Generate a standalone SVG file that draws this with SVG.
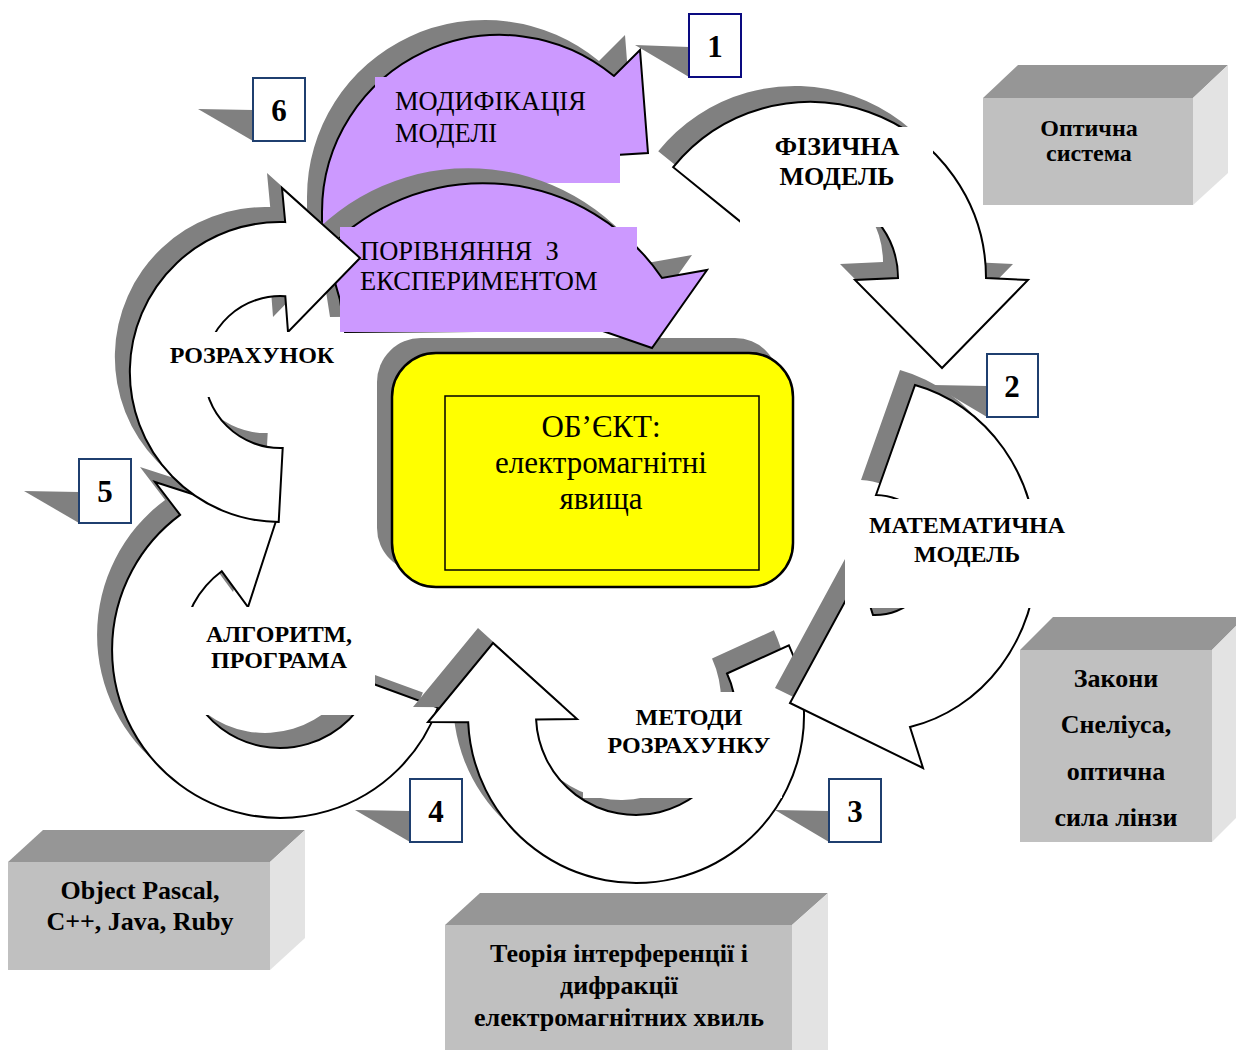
<svg xmlns="http://www.w3.org/2000/svg" width="1236" height="1050" viewBox="0 0 1236 1050">
<style>
.sh{fill:#808080}
.wa{fill:#ffffff;stroke:#000;stroke-width:2;stroke-linejoin:miter}
.pa{fill:#cc99ff;stroke:#000;stroke-width:2;stroke-linejoin:miter}
.wl{fill:#ffffff}
.pl{fill:#cc99ff}
.t{font-family:"Liberation Serif","Times New Roman",serif;fill:#000}
.c{text-anchor:middle}
.b{font-weight:bold}
.lb{font-size:24px}
.pt{font-size:26.5px}
.cf{fill:#c0c0c0}
.ct{fill:#969696}
.cs{fill:#e3e3e3}
.nb{fill:#ffffff;stroke:#1f3f6f;stroke-width:2}
.np{fill:#808080}
.nt{font-size:31px}
.ctx{font-size:25px}
</style>
<defs>
<path id="p1" d="M741.6,222.6 L673.2,167.2 A176,176 0 0 1 986,278 L1028,280 L942,368 L855,280 L898,278 A88,88 0 0 0 741.6,222.6 Z"/>
<path id="p2" d="M876,495 L915,385 A163,176 0 0 1 910,727 L923,768 L790,703 L860,574 L873,615 A60,60 0 0 0 876,495 Z"/>
<path id="p3" d="M727,673.5 L788.9,645.3 A168,168 0 1 1 468.2,722.3 L428,722 L493,643 L577,719 L536.1,719.4 A100,100 0 1 0 727,673.5 Z"/>
<path id="p4" d="M372.1,683.5 L437.9,707.5 A168,168 0 1 1 180.1,514.9 L155,482 L276,521 L248,607 L221.7,571.2 A98,98 0 1 0 372.1,683.5 Z"/>
<path id="p5" d="M282.7,448 L278.7,522 A150,150 0 1 1 285.2,222.1 L282,188 L360,258 L288,332 L285.3,296.2 A76,76 0 1 0 282.7,448 Z"/>
<path id="p6" d="M322,255 L322,212 A178,177 0 0 1 614,76 L640,50 L648,153 L600,156 L560,175 L392,175 L392,255 Z"/>
<path id="p7" d="M318,260 A216,216 0 0 1 662,278 L707,270 L652,348 L600,330 L345,332 L340,300 L330,265 Z"/>
</defs>
<rect x="0" y="0" width="1236" height="1050" fill="#ffffff"/>

<g id="object">
<rect x="377" y="338" width="402" height="234" rx="44" class="sh"/>
<rect x="392" y="353" width="401" height="234" rx="44" fill="#ffff00" stroke="#000" stroke-width="2.5"/>
<rect x="445" y="396" width="314" height="174" fill="#ffff00" stroke="#000" stroke-width="1.5"/>
<text class="t c" font-size="31" x="601" y="437">ОБ’ЄКТ:</text>
<text class="t c" font-size="31" x="601" y="473">електромагнітні</text>
<text class="t c" font-size="31" x="601" y="509">явища</text>
</g>

<g id="stage-algorithm">
<use href="#p4" class="sh" transform="translate(-15,-15)"/>
<use href="#p4" class="wa"/>
<rect x="175" y="607" width="200" height="108" class="wl"/>
<text class="t c b lb" x="279" y="642">АЛГОРИТМ,</text>
<text class="t c b lb" x="279" y="668">ПРОГРАМА</text>
</g>

<g id="stage-methods">
<use href="#p3" class="sh" transform="translate(-15,-15)"/>
<use href="#p3" class="wa"/>
<rect x="583" y="692" width="199" height="106" class="wl"/>
<text class="t c b lb" x="689" y="725">МЕТОДИ</text>
<text class="t c b lb" x="689" y="753">РОЗРАХУНКУ</text>
</g>

<g id="stage-math">
<use href="#p2" class="sh" transform="translate(-15,-15)"/>
<use href="#p2" class="wa"/>
<rect x="845" y="499" width="223" height="109" class="wl"/>
<text class="t c b lb" x="967" y="533">МАТЕМАТИЧНА</text>
<text class="t c b lb" x="967" y="562">МОДЕЛЬ</text>
</g>

<g id="stage-physical">
<use href="#p1" class="sh" transform="translate(-15,-16)"/>
<use href="#p1" class="wa"/>
<rect x="740" y="127" width="193" height="100" class="wl"/>
<text class="t c b" font-size="26" x="837" y="155">ФІЗИЧНА</text>
<text class="t c b" font-size="26" x="837" y="185">МОДЕЛЬ</text>
</g>

<g id="stage-modification">
<use href="#p6" class="sh" transform="translate(-15,-15)"/>
<use href="#p6" class="pa"/>
<rect x="375" y="77" width="245" height="106" class="pl"/>
<text class="t pt" x="395" y="110">МОДИФІКАЦІЯ</text>
<text class="t pt" x="395" y="142">МОДЕЛІ</text>
</g>

<g id="stage-comparison">
<use href="#p7" class="sh" transform="translate(-15,-15)"/>
<use href="#p7" class="pa"/>
<rect x="340" y="227" width="297" height="105" class="pl"/>
<text class="t pt" x="360" y="260" xml:space="preserve">ПОРІВНЯННЯ  З</text>
<text class="t pt" x="360" y="290">ЕКСПЕРИМЕНТОМ</text>
</g>

<g id="stage-calculation">
<use href="#p5" class="sh" transform="translate(-15,-15)"/>
<use href="#p5" class="wa"/>
<rect x="160" y="332" width="180" height="65" class="wl"/>
<text class="t c b lb" x="252" y="363">РОЗРАХУНОК</text>
</g>

<g id="cube-optical">
<polygon class="ct" points="983,98 1193,98 1228,65 1018,65"/>
<polygon class="cs" points="1193,98 1228,65 1228,173 1193,205"/>
<rect class="cf" x="983" y="98" width="210" height="107"/>
<text class="t c b" font-size="24" x="1089" y="136">Оптична</text>
<text class="t c b" font-size="24" x="1089" y="161">система</text>
</g>

<g id="cube-snell">
<polygon class="ct" points="1020,650 1212,650 1245,617 1053,617"/>
<polygon class="cs" points="1212,650 1245,617 1245,809 1212,842"/>
<rect class="cf" x="1020" y="650" width="192" height="192"/>
<text class="t c b" font-size="26" x="1116" y="687">Закони</text>
<text class="t c b" font-size="26" x="1116" y="733">Снеліуса,</text>
<text class="t c b" font-size="26" x="1116" y="780">оптична</text>
<text class="t c b" font-size="26" x="1116" y="826">сила лінзи</text>
</g>

<g id="cube-languages">
<polygon class="ct" points="8,862 270,862 305,830 43,830"/>
<polygon class="cs" points="270,862 305,830 305,938 270,970"/>
<rect class="cf" x="8" y="862" width="262" height="108"/>
<text class="t c b" font-size="26" x="140" y="899">Object Pascal,</text>
<text class="t c b" font-size="26" x="140" y="930">C++, Java, Ruby</text>
</g>

<g id="cube-theory">
<polygon class="ct" points="445,925 792,925 828,893 480,893"/>
<polygon class="cs" points="792,925 828,893 828,1050 792,1060"/>
<rect class="cf" x="445" y="925" width="347" height="135"/>
<text class="t c b" font-size="26" x="619" y="962">Теорія інтерференції і</text>
<text class="t c b" font-size="26" x="619" y="994">дифракції</text>
<text class="t c b" font-size="26" x="619" y="1026">електромагнітних хвиль</text>
</g>

<g id="connectors">
<polygon class="np" points="635,45 689,47 689,77"/>
<polygon class="np" points="198,109 253,110 253,141"/>
<polygon class="np" points="933,385 987,386 987,417"/>
<polygon class="np" points="775,810 829,811 829,842"/>
<polygon class="np" points="355,810 410,811 410,842"/>
<polygon class="np" points="24,491 79,492 79,523"/>
</g>

<g id="num-1">
<rect x="689" y="14" width="52" height="63" fill="#ffffff" stroke="#0a0a80" stroke-width="2"/>
<text class="t c b nt" x="715" y="57">1</text>
</g>
<g id="num-2">
<rect class="nb" x="987" y="354" width="51" height="63"/>
<text class="t c b nt" x="1012" y="397">2</text>
</g>
<g id="num-3">
<rect class="nb" x="829" y="779" width="52" height="63"/>
<text class="t c b nt" x="855" y="822">3</text>
</g>
<g id="num-4">
<rect class="nb" x="410" y="779" width="52" height="63"/>
<text class="t c b nt" x="436" y="822">4</text>
</g>
<g id="num-5">
<rect class="nb" x="79" y="459" width="52" height="64"/>
<text class="t c b nt" x="105" y="502">5</text>
</g>
<g id="num-6">
<rect class="nb" x="253" y="78" width="52" height="63"/>
<text class="t c b nt" x="279" y="121">6</text>
</g>
</svg>
